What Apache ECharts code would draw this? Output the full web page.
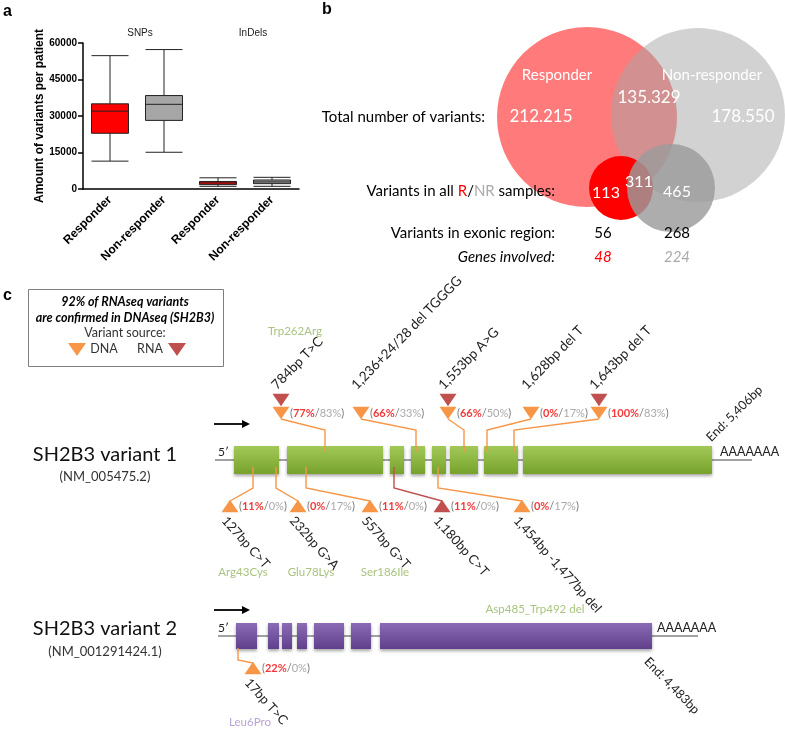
<!DOCTYPE html>
<html><head><meta charset="utf-8">
<script src="https://cdn.jsdelivr.net/npm/echarts@6/dist/echarts.min.js"></script>
<style>html,body{margin:0;padding:0;background:#fff}#c{width:785px;height:730px}</style>
</head><body><div id="c"></div>
<script>
// ---------------- DATA ----------------
// Panel a
const boxCategories = ['Responder', 'Non-responder', 'Responder', 'Non-responder'];
const boxGroups = ['SNPs', 'InDels'];
const boxStats = [
  [11450, 22900, 32000, 35000, 54800],
  [15100, 28200, 34800, 38400, 57300],
  [1100, 1800, 2500, 3100, 4600],
  [1100, 2200, 2900, 3700, 4800]
];
const yTicks = [0, 15000, 30000, 45000, 60000];
const yTitle = 'Amount of variants per patient';

// Panel b
const vennSets = ['Responder', 'Non-responder'];
const totalVariants = ['212.215', '135.329', '178.550'];   // R only, shared, NR only
const allSampleVariants = ['113', '311', '465'];          // R only, shared, NR only
const exonicVariants = ['56', '268'];
const genesInvolved = ['48', '224'];
const rowLabels = ['Total number of variants:', 'Variants in all ', ' samples:', 'Variants in exonic region:', 'Genes involved:'];

// Panel c
const legendLines = ['92% of RNAseq variants', 'are confirmed in DNAseq (SH2B3)', 'Variant source:', 'DNA', 'RNA'];
const genes = [
  { name: 'SH2B3 variant 1', acc: '(NM_005475.2)', end: 'End: 5,406bp', tail: 'AAAAAAA' },
  { name: 'SH2B3 variant 2', acc: '(NM_001291424.1)', end: 'End: 4,483bp', tail: 'AAAAAAA' }
];
const variants1Top = [
  { label: '784bp T>C', aa: 'Trp262Arg', rna: true, r: '77%', nr: '83%' },
  { label: '1,236+24/28 del TGGGG', aa: '', rna: false, r: '66%', nr: '33%' },
  { label: '1,553bp A>G', aa: '', rna: true, r: '66%', nr: '50%' },
  { label: '1,628bp del T', aa: '', rna: false, r: '0%', nr: '17%' },
  { label: '1,643bp del T', aa: '', rna: true, r: '100%', nr: '83%' }
];
const variants1Bottom = [
  { label: '127bp C>T', aa: 'Arg43Cys', src: 'DNA', r: '11%', nr: '0%' },
  { label: '232bp G>A', aa: 'Glu78Lys', src: 'DNA', r: '0%', nr: '17%' },
  { label: '557bp G>T', aa: 'Ser186Ile', src: 'DNA', r: '11%', nr: '0%' },
  { label: '1,180bp C>T', aa: '', src: 'RNA', r: '11%', nr: '0%' },
  { label: '1,454bp -1,477bp del', aa: 'Asp485_Trp492 del', src: 'DNA', r: '0%', nr: '17%' }
];
const variants2Bottom = [
  { label: '17bp T>C', aa: 'Leu6Pro', src: 'DNA', r: '22%', nr: '0%' }
];

// ---------------- LAYOUT (positions / styles) ----------------
const FONT = 'Lato, "Noto Sans", sans-serif';
const ARIAL = '"Liberation Sans", Arial, sans-serif';
const ORANGE = '#f79646', DARKRED = '#c0504d';
const vennCircles = [
  { cx: 587, cy: 117, r: 90, fill: 'rgba(255,0,0,0.52)' },
  { cx: 698, cy: 115, r: 87, fill: 'rgba(165,165,165,0.5)' },
  { cx: 621, cy: 188, r: 32, fill: '#ff0000' },
  { cx: 671, cy: 188, r: 44, fill: 'rgba(155,155,155,0.82)' }
];
const geneLayout = [
  { y: 460, x0: 215, x1: 752, h: 28, c0: '#a2c957', c1: '#76a22c', nameY: 455, accY: 477, arrowY: 424,
    exons: [[234, 279], [287, 383], [390, 404], [411, 425], [432, 446], [450, 478], [484, 518], [523, 712]],
    tailX: 720, tailY: 452, endX: 713, endY: 444, endRot: 0.78 },
  { y: 636, x0: 218, x1: 698, h: 26, c0: '#8a6bb4', c1: '#60408c', nameY: 629, accY: 652, arrowY: 610,
    exons: [[236, 257], [268, 279], [282, 292], [297, 307], [314, 344], [351, 371], [380, 652]],
    tailX: 657, tailY: 628, endX: 651, endY: 655, endRot: -0.8 }
];
const topLayout1 = [
  { mx: 281, ex: 325, aaX: 295, aaY: 331 },
  { mx: 361, ex: 416 },
  { mx: 448, ex: 464 },
  { mx: 531, ex: 487 },
  { mx: 599, ex: 514 }
];
const bottomLayout1 = [
  { mx: 230, ex: 253, aaX: 243, aaY: 572 },
  { mx: 298, ex: 276, aaX: 311, aaY: 572 },
  { mx: 370, ex: 306, aaX: 385, aaY: 572 },
  { mx: 442, ex: 394 },
  { mx: 522, ex: 438, aaX: 535, aaY: 609 }
];
const bottomLayout2 = [{ mx: 253, ex: 238, aaX: 250, aaY: 722 }];

// assemble marker records
const markers = [];
variants1Top.forEach((v, i) => markers.push(Object.assign({ kind: 'top', row: 0, src: 'DNA' }, v, topLayout1[i])));
variants1Bottom.forEach((v, i) => markers.push(Object.assign({ kind: 'bottom', row: 0, elTop: 467, elY: 488, triY: 506, aaColor: '#a9c47f' }, v, bottomLayout1[i])));
variants2Bottom.forEach((v, i) => markers.push(Object.assign({ kind: 'bottom', row: 1, elTop: 648, elY: 660, triY: 668, aaColor: '#b9a3d9' }, v, bottomLayout2[i])));

const exonData = [];
geneLayout.forEach((g, row) => g.exons.forEach(e => exonData.push([e[0], e[1], row])));

// ---------------- CHART ----------------
const chart = echarts.init(document.getElementById('c'));

function pctRich(r, nr) {
  return {
    text: '{p|(}{r|' + r + '}{p|/}{n|' + nr + '}{p|)}',
    rich: {
      p: { fill: '#777', color: '#777', fontSize: 11, fontFamily: FONT },
      r: { fill: '#f23a3a', color: '#f23a3a', fontSize: 11, fontWeight: 'bold', fontFamily: FONT },
      n: { fill: '#aaa', color: '#aaa', fontSize: 11, fontFamily: FONT }
    }
  };
}
function tri(P, cx, cy, w, h, down, color) {
  const pts = down
    ? [P(cx - w / 2, cy - h / 2), P(cx + w / 2, cy - h / 2), P(cx, cy + h / 2)]
    : [P(cx - w / 2, cy + h / 2), P(cx + w / 2, cy + h / 2), P(cx, cy - h / 2)];
  return { type: 'polygon', shape: { points: pts }, style: { fill: color } };
}
function T(x, y, text, s, extra) {
  return Object.assign({ type: 'text', x: x, y: y, z: 100, style: Object.assign({
    text: text, fill: '#000', fontFamily: FONT, fontSize: 14,
    align: 'left', textAlign: 'left', verticalAlign: 'middle', textVerticalAlign: 'middle'
  }, s || {}) }, extra || {});
}

const graphics = [];
// panel letters
graphics.push(T(3, 12, 'a', { fontFamily: ARIAL, fontWeight: 'bold', fontSize: 16 }));
graphics.push(T(322, 10, 'b', { fontFamily: ARIAL, fontWeight: 'bold', fontSize: 16 }));
graphics.push(T(3, 296, 'c', { fontFamily: ARIAL, fontWeight: 'bold', fontSize: 16 }));
// panel a group labels
graphics.push(T(140, 33, boxGroups[0], { fontFamily: ARIAL, fontSize: 10, fill: '#222', align: 'center', textAlign: 'center' }));
graphics.push(T(253, 33, boxGroups[1], { fontFamily: ARIAL, fontSize: 10, fill: '#222', align: 'center', textAlign: 'center' }));
// panel b texts
const cW = { fill: '#fff', align: 'center', textAlign: 'center' };
graphics.push(T(557, 75, vennSets[0], Object.assign({ fontSize: 15 }, cW)));
graphics.push(T(712, 75, vennSets[1], Object.assign({ fontSize: 15 }, cW)));
graphics.push(T(541, 117, totalVariants[0], Object.assign({ fontSize: 17 }, cW)));
graphics.push(T(649, 98, totalVariants[1], Object.assign({ fontSize: 17 }, cW)));
graphics.push(T(743, 117, totalVariants[2], Object.assign({ fontSize: 17 }, cW)));
graphics.push(T(606, 193, allSampleVariants[0], Object.assign({ fontSize: 16 }, cW)));
graphics.push(T(639, 182, allSampleVariants[1], Object.assign({ fontSize: 16 }, cW)));
graphics.push(T(677, 192, allSampleVariants[2], Object.assign({ fontSize: 16 }, cW)));
const rR = { align: 'right', textAlign: 'right', fontSize: 15 };
graphics.push(T(485, 117, rowLabels[0], rR));
graphics.push(T(555, 191, '{k|' + rowLabels[1] + '}{r|R}{k|/}{g|NR}{k|' + rowLabels[2] + '}', Object.assign({}, rR, {
  rich: {
    k: { fill: '#000', color: '#000', fontSize: 15, fontFamily: FONT },
    r: { fill: '#ff0000', color: '#ff0000', fontSize: 15, fontFamily: FONT },
    g: { fill: '#aaa', color: '#aaa', fontSize: 15, fontFamily: FONT }
  }
})));
graphics.push(T(555, 233, rowLabels[3], rR));
graphics.push(T(555, 257, rowLabels[4], Object.assign({ fontStyle: 'italic' }, rR)));
graphics.push(T(603, 233, exonicVariants[0], { fontSize: 15, align: 'center', textAlign: 'center' }));
graphics.push(T(677, 233, exonicVariants[1], { fontSize: 15, align: 'center', textAlign: 'center' }));
graphics.push(T(603, 257, genesInvolved[0], { fontSize: 15, fontStyle: 'italic', fill: '#ff0000', align: 'center', textAlign: 'center' }));
graphics.push(T(677, 257, genesInvolved[1], { fontSize: 15, fontStyle: 'italic', fill: '#aaa', align: 'center', textAlign: 'center' }));
// legend box
graphics.push({ type: 'rect', z: 90, shape: { x: 28.5, y: 289.5, width: 195, height: 77 }, style: { fill: '#fff', stroke: '#7f7f7f', lineWidth: 1 } });
const lc = { align: 'center', textAlign: 'center', fontSize: 12.5 };
graphics.push(T(125, 302, legendLines[0], Object.assign({ fontWeight: 'bold', fontStyle: 'italic' }, lc)));
graphics.push(T(125, 318, legendLines[1], Object.assign({ fontWeight: 'bold', fontStyle: 'italic' }, lc)));
graphics.push(T(125, 333, legendLines[2], Object.assign({ fill: '#333' }, lc)));
graphics.push(T(104, 349, legendLines[3], Object.assign({ fill: '#333' }, lc)));
graphics.push(T(150, 349, legendLines[4], Object.assign({ fill: '#333' }, lc)));
graphics.push({ type: 'polygon', z: 100, shape: { points: [[68, 343], [86, 343], [77, 356]] }, style: { fill: ORANGE } });
graphics.push({ type: 'polygon', z: 100, shape: { points: [[168, 343], [186, 343], [177, 356]] }, style: { fill: DARKRED } });
// gene names, arrows, 5', tails
geneLayout.forEach((g, i) => {
  graphics.push(T(105, g.nameY, genes[i].name, { fontSize: 20, fill: '#111', align: 'center', textAlign: 'center' }));
  graphics.push(T(105, g.accY, genes[i].acc, { fontSize: 13, fill: '#333', align: 'center', textAlign: 'center' }));
  graphics.push({ type: 'line', z: 100, shape: { x1: 214, y1: g.arrowY, x2: 244, y2: g.arrowY }, style: { stroke: '#000', lineWidth: 1.8 } });
  graphics.push({ type: 'polygon', z: 100, shape: { points: [[242, g.arrowY - 4], [250, g.arrowY], [242, g.arrowY + 4]] }, style: { fill: '#000' } });
  graphics.push(T(218, g.y - 8, "5\u2032", { fontSize: 12, fill: '#222' }));
  graphics.push(T(g.tailX, g.tailY, genes[i].tail, { fontSize: 12.5, fill: '#222' }));
  graphics.push(T(g.endX, g.endY, genes[i].end, { fontSize: 12.5, fill: '#222', verticalAlign: g.endRot > 0 ? 'bottom' : 'top', textVerticalAlign: g.endRot > 0 ? 'bottom' : 'top' }, { rotation: g.endRot }));
});

const option = {
  animation: false,
  grid: [
    { left: 83, top: 43, width: 216, height: 146 },
    { left: 0, top: 0, width: 785, height: 730 }
  ],
  xAxis: [
    { type: 'category', gridIndex: 0, data: boxCategories,
      axisLine: { lineStyle: { color: '#000', width: 1.5 } },
      axisTick: { alignWithLabel: true, length: 5, lineStyle: { color: '#000', width: 1.5 } },
      axisLabel: { rotate: 45, interval: 0, color: '#000', fontWeight: 'bold', fontSize: 12, fontFamily: ARIAL, margin: 9 } },
    { type: 'value', gridIndex: 1, min: 0, max: 785, show: false }
  ],
  yAxis: [
    { type: 'value', gridIndex: 0, min: yTicks[0], max: yTicks[yTicks.length - 1], interval: yTicks[1] - yTicks[0],
      name: yTitle, nameLocation: 'middle', nameGap: 31,
      nameTextStyle: { fontWeight: 'bold', fontSize: 12, fontFamily: ARIAL, color: '#000' },
      axisLine: { show: true, lineStyle: { color: '#000', width: 1.5 } },
      axisTick: { show: true, length: 5, lineStyle: { color: '#000', width: 1.5 } },
      axisLabel: { color: '#000', fontWeight: 'bold', fontSize: 10, fontFamily: ARIAL, margin: 6, formatter: v => String(v) },
      splitLine: { show: false } },
    { type: 'value', gridIndex: 1, min: 0, max: 730, inverse: true, show: false }
  ],
  graphic: { elements: graphics },
  series: [
    { type: 'boxplot', xAxisIndex: 0, yAxisIndex: 0, boxWidth: [37, 37],
      data: boxStats.map((v, i) => ({ value: v, itemStyle: { color: i % 2 === 0 ? '#ff0000' : '#a6a6a6', borderColor: '#222', borderWidth: 1 } })) },
    // Venn circles
    { type: 'custom', xAxisIndex: 1, yAxisIndex: 1, clip: false, silent: true, z: 1,
      data: vennCircles.map((c, i) => [c.cx, c.cy, i]),
      renderItem: (p, api) => {
        const c = vennCircles[api.value(2)];
        const pt = api.coord([c.cx, c.cy]);
        const r = api.coord([c.cx + c.r, c.cy])[0] - pt[0];
        return { type: 'circle', shape: { cx: pt[0], cy: pt[1], r: r }, style: { fill: c.fill } };
      } },
    // gene backbone
    { type: 'custom', xAxisIndex: 1, yAxisIndex: 1, clip: false, silent: true, z: 1,
      data: geneLayout.map((g, i) => [g.x0, g.y, i]),
      renderItem: (p, api) => {
        const g = geneLayout[api.value(2)];
        const a = api.coord([g.x0, g.y]), b = api.coord([g.x1, g.y]);
        return { type: 'line', shape: { x1: a[0], y1: a[1], x2: b[0], y2: b[1] }, style: { stroke: '#444', lineWidth: 1 } };
      } },
    // exons
    { type: 'custom', xAxisIndex: 1, yAxisIndex: 1, clip: false, silent: true, z: 2,
      data: exonData,
      renderItem: (p, api) => {
        const g = geneLayout[api.value(2)];
        const a = api.coord([api.value(0), g.y - g.h / 2]), b = api.coord([api.value(1), g.y + g.h / 2]);
        return { type: 'rect', shape: { x: a[0], y: a[1], width: b[0] - a[0], height: b[1] - a[1] },
          style: { fill: new echarts.graphic.LinearGradient(0, 0, 0, 1, [{ offset: 0, color: g.c0 }, { offset: 1, color: g.c1 }]),
            shadowBlur: 3, shadowOffsetY: 2, shadowColor: 'rgba(0,0,0,0.35)' } };
      } },
    // variant markers
    { type: 'custom', xAxisIndex: 1, yAxisIndex: 1, clip: false, silent: true, z: 3,
      data: markers.map((m, i) => [m.mx, m.ex, i]),
      renderItem: (p, api) => {
        const m = markers[api.value(2)];
        const P = (x, y) => api.coord([x, y]);
        const ch = [];
        if (m.kind === 'top') {
          ch.push({ type: 'polyline', shape: { points: [P(m.mx, 419), P(m.ex, 430), P(m.ex, 452)] }, style: { stroke: ORANGE, lineWidth: 1.4, fill: null } });
          ch.push(tri(P, m.mx, 413, 17, 12.5, true, ORANGE));
          if (m.rna) ch.push(tri(P, m.mx, 400, 17, 12.5, true, DARKRED));
          const tp = P(m.mx + 9, 413);
          ch.push({ type: 'text', x: tp[0], y: tp[1], style: Object.assign({ align: 'left', textAlign: 'left', verticalAlign: 'middle', textVerticalAlign: 'middle' }, pctRich(m.r, m.nr)) });
          const lp = P(m.mx - 2, 392);
          ch.push({ type: 'text', x: lp[0], y: lp[1], rotation: 0.8, style: { text: m.label, fill: '#222', fontFamily: FONT, fontSize: 13.5, align: 'left', textAlign: 'left', verticalAlign: 'bottom', textVerticalAlign: 'bottom' } });
          if (m.aa) { const ap = P(m.aaX, m.aaY); ch.push({ type: 'text', x: ap[0], y: ap[1], style: { text: m.aa, fill: '#a9c47f', fontFamily: FONT, fontSize: 11.5, align: 'center', textAlign: 'center', verticalAlign: 'middle', textVerticalAlign: 'middle' } }); }
        } else {
          const col = m.src === 'RNA' ? DARKRED : ORANGE;
          ch.push({ type: 'polyline', shape: { points: [P(m.ex, m.elTop), P(m.ex, m.elY), P(m.mx, m.triY - 5)] }, style: { stroke: col, lineWidth: 1.4, fill: null } });
          ch.push(tri(P, m.mx, m.triY, 17, 12.5, false, col));
          const tp = P(m.mx + 9, m.triY);
          ch.push({ type: 'text', x: tp[0], y: tp[1], style: Object.assign({ align: 'left', textAlign: 'left', verticalAlign: 'middle', textVerticalAlign: 'middle' }, pctRich(m.r, m.nr)) });
          const lp = P(m.mx - 1, m.triY + 8);
          ch.push({ type: 'text', x: lp[0], y: lp[1], rotation: -0.84, style: { text: m.label, fill: '#222', fontFamily: FONT, fontSize: 13, align: 'left', textAlign: 'left', verticalAlign: 'top', textVerticalAlign: 'top' } });
          if (m.aa) { const ap = P(m.aaX, m.aaY); ch.push({ type: 'text', x: ap[0], y: ap[1], style: { text: m.aa, fill: m.aaColor, fontFamily: FONT, fontSize: 11.5, align: 'center', textAlign: 'center', verticalAlign: 'middle', textVerticalAlign: 'middle' } }); }
        }
        return { type: 'group', children: ch };
      } }
  ]
};
chart.setOption(option);
</script>
</body></html>
